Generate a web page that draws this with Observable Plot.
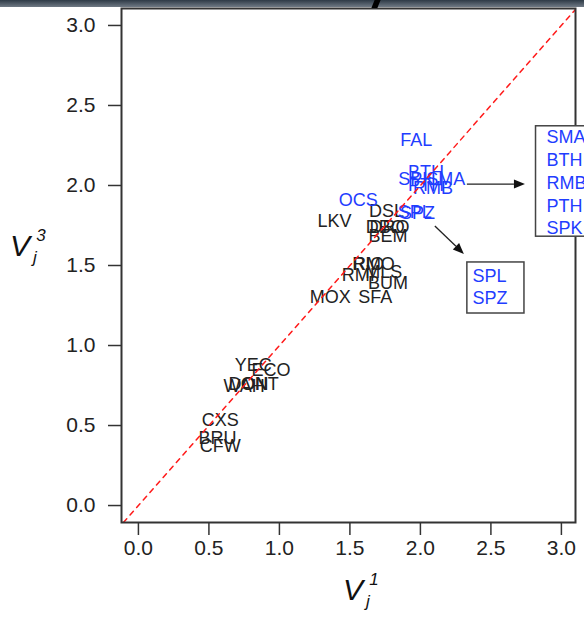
<!DOCTYPE html>
<html><head><meta charset="utf-8">
<script src="https://cdn.jsdelivr.net/npm/d3@7"></script>
<script src="https://cdn.jsdelivr.net/npm/@observablehq/plot@0.6"></script>
<style>
html,body{margin:0;padding:0;background:#fff;}
#chart{position:absolute;left:0;top:0;}
#band{position:absolute;left:0;top:0;width:584px;height:7px;background:linear-gradient(#2e3a46,#6f7984);}
#band span{position:absolute;left:373px;top:0;width:6px;height:8px;background:#000;transform:skewX(-22deg);}
</style></head><body>
<div id="chart"></div><div id="band"><span></span></div>
<script>
// Labelled sites: code, V_j^1 (x), V_j^3 (y), highlighted (blue)
const codes = ["LKV","DSL","DBO","DRO","BEM","RIO","RMO","RMI","MLS","BUM","MOX","SFA","YEC","ECO","DON","ONT","WAH","CXS","BRU","CFW",
               "FAL","OCS","SPL","SPZ","BTH","SPK","SMA","PTH","RMB"];
const v1 = [1.39,1.76,1.75,1.78,1.77,1.63,1.67,1.56,1.74,1.77,1.36,1.68,0.815,0.94,0.78,0.86,0.75,0.58,0.56,0.58,
            1.97,1.56,1.96,1.98,2.04,1.97,2.18,2.04,2.09];
const v3 = [1.775,1.84,1.74,1.74,1.68,1.51,1.51,1.44,1.46,1.39,1.30,1.30,0.875,0.845,0.76,0.76,0.745,0.53,0.42,0.37,
            2.28,1.91,1.83,1.825,2.08,2.04,2.04,2.0,1.98];
const highlighted = [false,false,false,false,false,false,false,false,false,false,false,false,false,false,false,false,false,false,false,false,
                     true,true,true,true,true,true,true,true,true];
const xTicks = [0,0.5,1,1.5,2,2.5,3];
const yTicks = [0,0.5,1,1.5,2,2.5,3];
const box1Labels = ["SMA","BTH","RMB","PTH","SPK"];
const box2Labels = ["SPL","SPZ"];

const sites = codes.map((c,i)=>({code:c, v1:v1[i], v3:v3[i], hl:highlighted[i]}));
const xDomain = [-0.12, 3.10];
const yDomain = [-0.106, 3.106];
const diag = [{x:-0.2,y:-0.2},{x:3.3,y:3.3}];
const blue = "#1f3dff";
const ink = "#222";

// annotation geometry (data units)
const box1 = [{x1:2.82, x2:3.6, y1:2.37, y2:1.68}];
const box2 = [{x1:2.333, x2:2.738, y1:1.519, y2:1.20}];
const box1Text = box1Labels.map((t,i)=>({t, x:2.894, y:2.30 - i*0.1425}));
const box2Text = box2Labels.map((t,i)=>({t, x:2.369, y:1.431 - i*0.137}));
const arrows = [
  {x1:2.333, y1:2.006, x2:2.745, y2:2.006},
  {x1:2.106, y1:1.744, x2:2.312, y2:1.569}
];

const fmt = d3.format(".1f");
const svg = Plot.plot({
  width:584, height:617,
  marginLeft:121, marginRight:9, marginTop:8, marginBottom:95,
  style:{fontFamily:"'Liberation Sans', Arial, sans-serif", background:"transparent", color:ink, overflow:"visible"},
  x:{domain:xDomain},
  y:{domain:yDomain},
  marks:[
    Plot.axisX({ticks:xTicks, tickFormat:fmt, tickSize:13, tickPadding:5, fontSize:21, label:null, strokeWidth:1.5, stroke:"#333"}),
    Plot.axisY({ticks:yTicks, tickFormat:fmt, tickSize:13, tickPadding:13, fontSize:21, label:null, strokeWidth:1.5, stroke:"#333"}),
    Plot.text(sites, {x:"v1", y:"v3", text:"code", fill:d=>d.hl?blue:"#222", fontSize:18}),
    Plot.line(diag, {x:"x", y:"y", stroke:"#ff1a1a", strokeWidth:1.5, strokeDasharray:"5,5", clip:true}),
    Plot.frame({stroke:"#333", strokeWidth:2}),
    Plot.rect(box1, {x1:"x1", x2:"x2", y1:"y1", y2:"y2", fill:"white", stroke:"#444", strokeWidth:1.5}),
    Plot.rect(box2, {x1:"x1", x2:"x2", y1:"y1", y2:"y2", fill:"white", stroke:"#444", strokeWidth:1.5}),
    Plot.text(box1Text, {x:"x", y:"y", text:"t", fill:blue, fontSize:18, textAnchor:"start"}),
    Plot.text(box2Text, {x:"x", y:"y", text:"t", fill:blue, fontSize:18, textAnchor:"start"})
  ]
});

const s = d3.select(svg);
const sx = svg.scale("x"), sy = svg.scale("y");
// arrows with filled triangular heads, placed through the plot's scales
const ga = s.append("g").attr("fill","#111").attr("stroke","#222");
for (const a of arrows) {
  const X1 = sx.apply(a.x1), Y1 = sy.apply(a.y1), X2 = sx.apply(a.x2), Y2 = sy.apply(a.y2);
  const dx = X2 - X1, dy = Y2 - Y1, L = Math.hypot(dx, dy), ux = dx / L, uy = dy / L;
  const hl = 11, hw = 4.5;
  const bx = X2 - ux * hl, by = Y2 - uy * hl;
  ga.append("line").attr("x1",X1).attr("y1",Y1).attr("x2",bx).attr("y2",by).attr("stroke-width",1.3);
  ga.append("path").attr("stroke","none")
    .attr("d",`M${X2},${Y2}L${bx - uy*hw},${by + ux*hw}L${bx + uy*hw},${by - ux*hw}Z`);
}
function title(x, y, sup){
  const g = s.append("g").attr("font-family","'Liberation Sans', Arial, sans-serif").attr("font-style","italic").attr("fill","#111");
  g.append("text").attr("x",x).attr("y",y).attr("font-size",30).text("V");
  g.append("text").attr("x",x+21).attr("y",y-15).attr("font-size",17).text(sup);
  g.append("text").attr("x",x+15).attr("y",y+7).attr("font-size",17).text("j");
}
title(353, 600, "1");
title(20, 256, "3");
document.getElementById("chart").appendChild(svg);
</script>
</body></html>
